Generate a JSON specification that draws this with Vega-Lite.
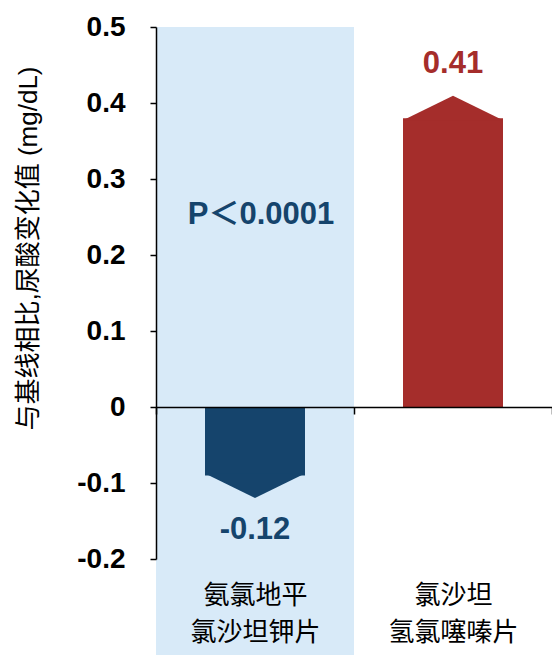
{
  "$schema": "https://vega.github.io/schema/vega-lite/v6.json",
  "width": 396,
  "height": 532,
  "autosize": "none",
  "padding": {"left": 156, "top": 27, "right": 0, "bottom": 96},
  "background": "white",
  "config": {"view": {"stroke": null}, "font": "Liberation Sans, Noto Sans CJK SC"},
  "datasets": {
    "bars": [
      {"drug": "氨氯地平 氯沙坦钾片", "change": -0.12, "shoulder": -0.09, "label": "-0.12", "dir": "down"},
      {"drug": "氯沙坦 氢氯噻嗪片", "change": 0.41, "shoulder": 0.38, "label": "0.41", "dir": "up"}
    ],
    "band": [{"drug": "氨氯地平 氯沙坦钾片", "top": 0.5, "bottom": -0.33}],
    "note": [{"drug": "氨氯地平 氯沙坦钾片", "y": 0.253, "text": "P＜0.0001"}]
  },
  "encoding": {
    "x": {
      "field": "drug",
      "type": "nominal",
      "sort": null,
      "scale": {"domain": ["氨氯地平 氯沙坦钾片", "氯沙坦 氢氯噻嗪片"], "paddingInner": 0, "paddingOuter": 0},
      "axis": {
        "orient": "bottom",
        "offset": -152,
        "title": null,
        "domain": true,
        "domainColor": "#000000",
        "domainWidth": 1.5,
        "ticks": true,
        "tickBand": "extent",
        "tickSize": 7,
        "tickColor": "#000000",
        "tickWidth": 1.5,
        "labelPadding": 168,
        "labelAngle": 0,
        "labelExpr": "split(datum.label, ' ')",
        "labelFont": "Noto Sans CJK SC",
        "labelFontSize": 26,
        "labelColor": "#000000",
        "labelLineHeight": 37,
        "labelBaseline": "top",
        "zindex": 1
      }
    }
  },
  "layer": [
    {
      "data": {"name": "band"},
      "mark": {"type": "bar", "color": "#d8eaf8", "width": {"band": 1}},
      "encoding": {
        "y": {
          "field": "top",
          "type": "quantitative",
          "scale": {"domain": [-0.2, 0.5], "nice": false, "zero": false},
          "axis": {
            "orient": "left",
            "values": [-0.2, -0.1, 0, 0.1, 0.2, 0.3, 0.4, 0.5],
            "labelExpr": "'' + datum.value",
            "labelFont": "Liberation Sans",
            "labelFontSize": 28,
            "labelFontWeight": "bold",
            "labelColor": "#000000",
            "labelPadding": 25,
            "tickSize": 6,
            "tickColor": "#000000",
            "tickWidth": 1.5,
            "domainColor": "#000000",
            "domainWidth": 1.5,
            "grid": false,
            "title": "与基线相比,尿酸变化值 (mg/dL)",
            "titleFont": "Liberation Sans, Noto Sans CJK SC",
            "titleFontSize": 26,
            "titleFontWeight": "normal",
            "titleColor": "#000000",
            "titleX": -128,
            "titleY": 221,
            "titleAngle": -90,
            "titleBaseline": "middle",
            "titleAlign": "center",
            "zindex": 1
          }
        },
        "y2": {"field": "bottom"}
      }
    },
    {
      "data": {"name": "bars"},
      "mark": {"type": "bar", "width": 100},
      "encoding": {
        "y": {"field": "shoulder", "type": "quantitative", "scale": {"domain": [-0.2, 0.5], "nice": false, "zero": false}, "title": "与基线相比,尿酸变化值 (mg/dL)"},
        "y2": {"datum": 0},
        "color": {"field": "drug", "type": "nominal", "scale": {"domain": ["氨氯地平 氯沙坦钾片", "氯沙坦 氢氯噻嗪片"], "range": ["#15446c", "#a52d2b"]}, "legend": null}
      }
    },
    {
      "data": {"name": "bars"},
      "mark": {"type": "point", "filled": true, "size": 10000, "opacity": 1, "strokeWidth": 0},
      "encoding": {
        "y": {"field": "shoulder", "type": "quantitative", "scale": {"domain": [-0.2, 0.5], "nice": false, "zero": false}, "title": "与基线相比,尿酸变化值 (mg/dL)"},
        "shape": {"field": "dir", "type": "nominal", "scale": {"domain": ["down", "up"], "range": ["M-1,-0.04L1,-0.04L0,0.45Z", "M-1,0.04L1,0.04L0,-0.45Z"]}, "legend": null},
        "color": {"field": "drug", "type": "nominal", "scale": {"domain": ["氨氯地平 氯沙坦钾片", "氯沙坦 氢氯噻嗪片"], "range": ["#15446c", "#a52d2b"]}, "legend": null}
      }
    },
    {
      "data": {"name": "bars"},
      "transform": [{"filter": "datum.dir == 'up'"}],
      "mark": {"type": "text", "dy": -31, "baseline": "middle", "align": "center", "font": "Liberation Sans", "fontSize": 31, "fontWeight": "bold"},
      "encoding": {
        "y": {"field": "change", "type": "quantitative", "scale": {"domain": [-0.2, 0.5], "nice": false, "zero": false}, "title": "与基线相比,尿酸变化值 (mg/dL)"},
        "text": {"field": "label"},
        "color": {"field": "drug", "type": "nominal", "scale": {"domain": ["氨氯地平 氯沙坦钾片", "氯沙坦 氢氯噻嗪片"], "range": ["#15446c", "#a52d2b"]}, "legend": null}
      }
    },
    {
      "data": {"name": "bars"},
      "transform": [{"filter": "datum.dir == 'down'"}],
      "mark": {"type": "text", "dy": 32, "baseline": "middle", "align": "center", "font": "Liberation Sans", "fontSize": 31, "fontWeight": "bold"},
      "encoding": {
        "y": {"field": "change", "type": "quantitative", "scale": {"domain": [-0.2, 0.5], "nice": false, "zero": false}, "title": "与基线相比,尿酸变化值 (mg/dL)"},
        "text": {"field": "label"},
        "color": {"field": "drug", "type": "nominal", "scale": {"domain": ["氨氯地平 氯沙坦钾片", "氯沙坦 氢氯噻嗪片"], "range": ["#15446c", "#a52d2b"]}, "legend": null}
      }
    },
    {
      "data": {"name": "note"},
      "mark": {"type": "text", "baseline": "middle", "align": "center", "dx": 6, "font": "Liberation Sans, Noto Sans CJK SC", "fontSize": 31, "fontWeight": "bold", "color": "#15446c"},
      "encoding": {
        "y": {"field": "y", "type": "quantitative", "scale": {"domain": [-0.2, 0.5], "nice": false, "zero": false}, "title": "与基线相比,尿酸变化值 (mg/dL)"},
        "text": {"field": "text"}
      }
    }
  ]
}
